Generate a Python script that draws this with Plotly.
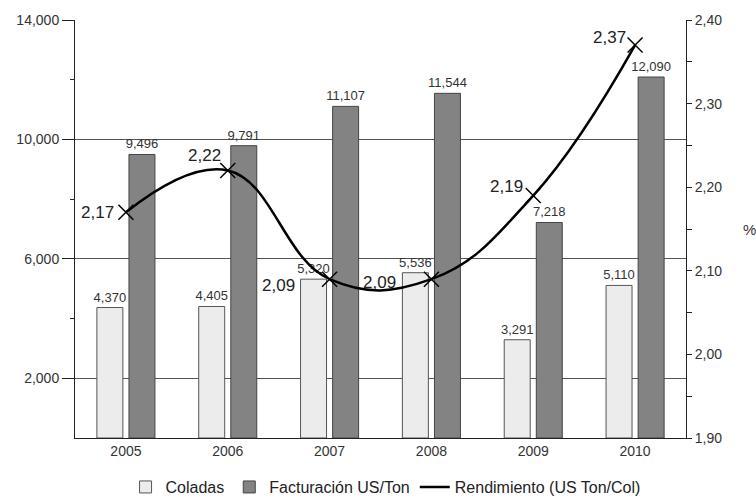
import plotly.graph_objects as go

# Annual data
years = ["2005", "2006", "2007", "2008", "2009", "2010"]
coladas = [4370, 4405, 5320, 5536, 3291, 5110]
facturacion = [9496, 9791, 11107, 11544, 7218, 12090]
rendimiento = [2.17, 2.22, 2.09, 2.09, 2.19, 2.37]

left_ticks = [2000, 6000, 10000, 14000]
left_minor = [4000, 8000, 12000]
right_ticks = [1.90, 2.00, 2.10, 2.20, 2.30, 2.40]
right_all = [1.90, 1.95, 2.00, 2.05, 2.10, 2.15, 2.20, 2.25, 2.30, 2.35, 2.40]

# pixel offsets of the yield labels relative to their markers
label_dx = [-10, -5, -33, -33, -8, -7]
label_dy = [0, 15, -6, -3, 9, 8]

FONT = "Liberation Sans, Arial, sans-serif"
TXT = "#333333"

fig = go.Figure()

fig.add_trace(go.Bar(
    x=years, y=coladas, name="Coladas",
    marker=dict(color="#ececec", line=dict(color="#555555", width=1)),
    text=[f"{v:,}" for v in coladas], textposition="outside", constraintext="none",
    textfont=dict(size=13, color=TXT, family=FONT), cliponaxis=False,
))
fig.add_trace(go.Bar(
    x=years, y=facturacion, name="Facturación US/Ton",
    marker=dict(color="#838383", line=dict(color="#444444", width=1)),
    text=[f"{v:,}" for v in facturacion], textposition="outside", constraintext="none",
    textfont=dict(size=13, color=TXT, family=FONT), cliponaxis=False,
))
fig.add_trace(go.Scatter(
    x=years, y=rendimiento, name="Rendimiento (US Ton/Col)", yaxis="y2",
    mode="lines+markers", showlegend=False,
    line=dict(color="black", width=2.5, shape="spline", smoothing=1.2),
    marker=dict(symbol="x-thin", size=15, line=dict(color="black", width=1.5)),
    cliponaxis=False,
))
# legend entry for the line, drawn as a plain stroke
fig.add_trace(go.Scatter(
    x=[None], y=[None], name="Rendimiento (US Ton/Col)", yaxis="y2",
    mode="lines", line=dict(color="black", width=2.5),
))

# value labels for the yield line (category index positions)
for i, (v, dx, dy) in enumerate(zip(rendimiento, label_dx, label_dy)):
    fig.add_annotation(
        x=i, y=v, xref="x", yref="y2", text=f"{v:.2f}".replace(".", ","),
        showarrow=False, xanchor="right", yanchor="middle",
        xshift=dx, yshift=dy,
        font=dict(size=17, color="#222222", family=FONT),
    )

fig.update_layout(
    width=756, height=498,
    margin=dict(l=75, r=70, t=20, b=60, autoexpand=False),
    paper_bgcolor="white", plot_bgcolor="white",
    font=dict(family=FONT, color=TXT, size=14),
    barmode="group", bargap=0.37, bargroupgap=0.19,
    showlegend=True,
    legend=dict(orientation="h", x=0.51, xanchor="center", xref="container",
                y=0.022, yanchor="middle", yref="container",
                font=dict(size=16, color="#222222"), itemwidth=30,
                traceorder="normal"),
    xaxis=dict(
        type="category", categoryorder="array", categoryarray=years,
        range=[-0.5, 5.5], showline=True, linecolor="#222222", linewidth=1,
        ticks="", tickfont=dict(size=14), showgrid=False,
    ),
    yaxis=dict(
        range=[0, 14000], tickvals=left_ticks,
        ticktext=[f"{v:,}" for v in left_ticks],
        showline=True, linecolor="#222222", linewidth=1,
        ticks="outside", ticklen=12, tickcolor="#222222",
        showgrid=True, gridcolor="#555555", gridwidth=1,
        zeroline=False, tickfont=dict(size=14),
        minor=dict(tickvals=left_minor, ticks="outside", ticklen=4,
                   tickcolor="#222222", showgrid=False),
    ),
    yaxis2=dict(
        range=[1.9, 2.4], overlaying="y", side="right",
        tickvals=right_ticks,
        ticktext=[f"{v:.2f}".replace(".", ",") for v in right_ticks],
        showline=True, linecolor="#222222", linewidth=1,
        ticks="outside", ticklen=5, tickcolor="#222222",
        minor=dict(tickvals=right_all, ticks="outside", ticklen=5, tickcolor="#222222"),
        showgrid=False, zeroline=False, tickfont=dict(size=14),
    ),
    yaxis3=dict(
        range=[1.9, 2.4], overlaying="y", side="right", anchor="x",
        tickvals=right_all, showticklabels=False,
        ticks="inside", ticklen=5, tickcolor="#222222",
        showline=False, showgrid=False, zeroline=False,
    ),
)

fig.add_annotation(
    x=1.0, xref="paper", xanchor="center", xshift=63,
    y=2.15, yref="y2", text="%", showarrow=False,
    font=dict(size=15, color=TXT),
)

fig.write_html("out.html")
